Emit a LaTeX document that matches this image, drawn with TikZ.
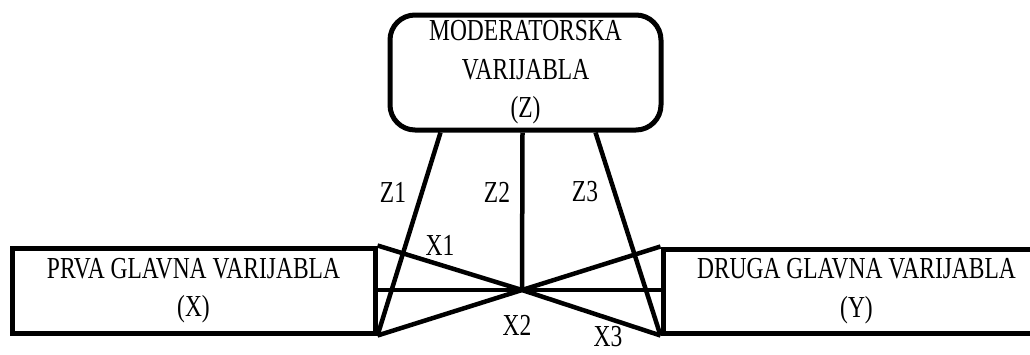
\documentclass[tikz,border=0pt]{standalone}
\usepackage{fontspec}
\setmainfont{Liberation Serif}[FakeStretch=0.77]
\begin{document}
\begin{tikzpicture}[x=1pt,y=-1pt,
  box/.style={draw, line width=5pt, inner sep=0pt, align=center, font=\fontsize{30.5}{38.5}\selectfont},
  conn/.style={line width=4.5pt},
  lbl/.style={font=\fontsize{30.5}{34}\selectfont, inner sep=0pt}]
\useasboundingbox (0,0) rectangle (1030,354);
\clip (0,0) rectangle (1030,354);
\node[box, rounded corners=25pt, minimum width=271pt, minimum height=115pt] (M) at (525.5,72.5) {MODERATORSKA\\VARIJABLA\\(Z)};
\node[box, minimum width=363pt, minimum height=85pt] (L) at (193.5,290.5) {PRVA GLAVNA VARIJABLA\\(X)};
\node[box, minimum width=387pt, minimum height=84pt] (R) at (856.5,291) {DRUGA GLAVNA VARIJABLA\\(Y)};
\coordinate (J) at (522,290);
\coordinate (Lm) at (375,290);
\coordinate (Rm) at (663,290);
\draw[conn] ([xshift=-85pt]M.south) -- (L.south east);
\draw[conn] ([xshift=-3pt]M.south) -- (J);
\draw[conn] ([xshift=70pt]M.south) -- (R.south west);
\draw[conn] (L.north east) -- (J) -- (R.south west);
\draw[conn] (L.south east) -- (J) -- (R.north west);
\draw[conn] (Lm) -- (Rm);
\node[lbl] (z1) at (393,192) {Z1};
\node[lbl] (z2) at (497,192) {Z2};
\node[lbl] (z3) at (585,192) {Z3};
\node[lbl] (x1) at (440,245) {X1};
\node[lbl] (x2) at (517,325) {X2};
\node[lbl] (x3) at (608,337) {X3};
\end{tikzpicture}
\end{document}
